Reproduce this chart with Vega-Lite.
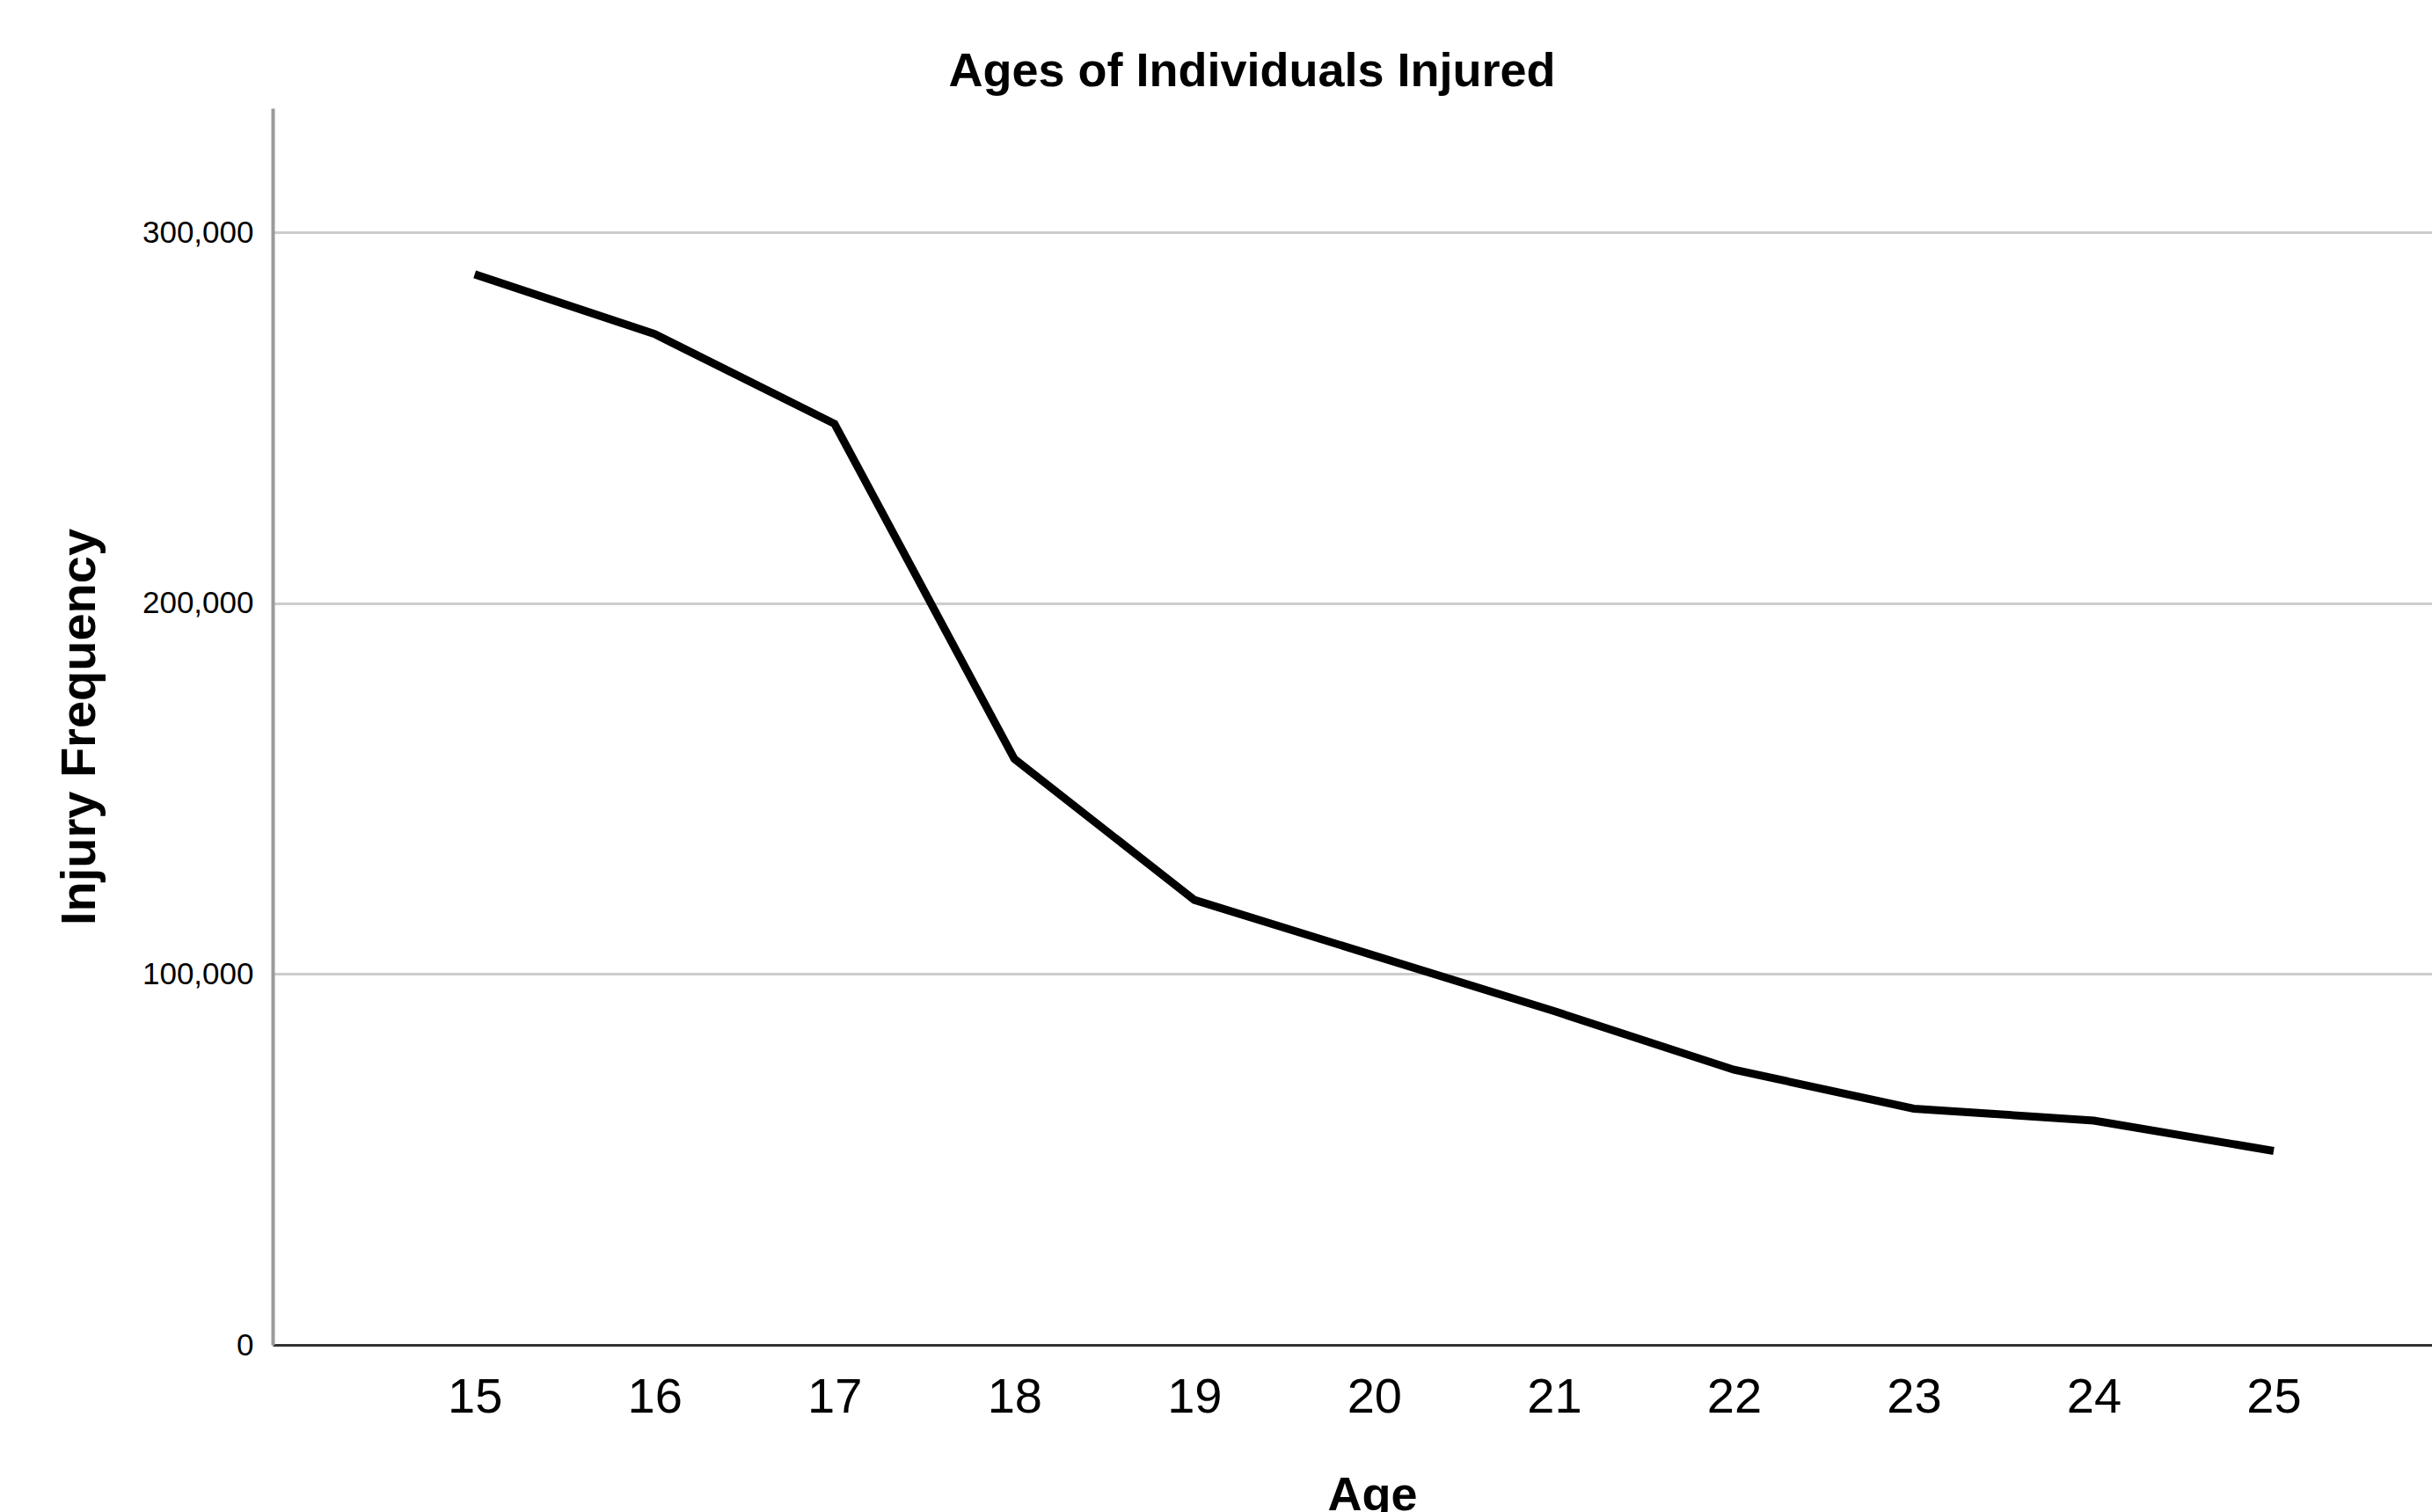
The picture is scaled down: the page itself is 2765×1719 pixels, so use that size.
{
  "$schema": "https://vega.github.io/schema/vega-lite/v6.json",
  "autosize": {"type": "none"},
  "padding": {"left": 310, "top": 123, "right": 0, "bottom": 190},
  "width": 2455,
  "height": 1406,
  "background": "white",
  "config": {
    "view": {"stroke": null},
    "font": "Liberation Sans, Arial, sans-serif"
  },
  "title": {
    "text": "Ages of Individuals Injured",
    "fontSize": 54,
    "fontWeight": "bold",
    "font": "Liberation Sans, Arial, sans-serif",
    "color": "#000000",
    "anchor": "middle",
    "dx": -114,
    "dy": 54,
    "baseline": "alphabetic",
    "offset": 25
  },
  "data": {
    "values": [
      {"age": 15, "freq": 288700},
      {"age": 16, "freq": 272600},
      {"age": 17, "freq": 248400},
      {"age": 18, "freq": 158000},
      {"age": 19, "freq": 120000},
      {"age": 20, "freq": 105000},
      {"age": 21, "freq": 90000},
      {"age": 22, "freq": 74200},
      {"age": 23, "freq": 63700},
      {"age": 24, "freq": 60500},
      {"age": 25, "freq": 52300}
    ]
  },
  "mark": {"type": "line", "color": "#000000", "strokeWidth": 9, "strokeJoin": "miter"},
  "encoding": {
    "x": {
      "field": "age",
      "type": "quantitative",
      "scale": {"domain": [13.877, 25.88], "nice": false, "zero": false},
      "axis": {
        "title": "Age",
        "values": [15, 16, 17, 18, 19, 20, 21, 22, 23, 24, 25],
        "format": "d",
        "grid": false,
        "ticks": false,
        "tickSize": 0,
        "labelFont": "Liberation Sans Narrow, Liberation Sans, Arial, sans-serif",
        "labelFontSize": 56,
        "labelColor": "#000000",
        "labelBaseline": "alphabetic",
        "labelPadding": 76,
        "labelFlush": false,
        "labelOverlap": false,
        "domainColor": "#333333",
        "domainWidth": 3,
        "titleFont": "Liberation Sans, Arial, sans-serif",
        "titleFontSize": 54,
        "titleFontWeight": "bold",
        "titleColor": "#000000",
        "titleX": 1250,
        "titleY": 187,
        "titleBaseline": "alphabetic",
        "titleAlign": "center"
      }
    },
    "y": {
      "field": "freq",
      "type": "quantitative",
      "scale": {"domain": [0, 333500], "nice": false},
      "axis": {
        "title": "Injury Frequency",
        "values": [0, 100000, 200000, 300000],
        "format": ",d",
        "grid": true,
        "gridColor": "#cccccc",
        "gridWidth": 3,
        "ticks": false,
        "tickSize": 0,
        "labelFont": "Liberation Sans, Arial, sans-serif",
        "labelFontSize": 35,
        "labelColor": "#000000",
        "labelPadding": 22,
        "labelBaseline": "middle",
        "labelFlush": false,
        "domainColor": "#9a9a9a",
        "domainWidth": 4,
        "titleFont": "Liberation Sans, Arial, sans-serif",
        "titleFontSize": 56,
        "titleFontWeight": "bold",
        "titleColor": "#000000",
        "titleAngle": 270,
        "titleX": -203,
        "titleY": 703,
        "titleBaseline": "alphabetic",
        "titleAlign": "center"
      }
    }
  }
}
